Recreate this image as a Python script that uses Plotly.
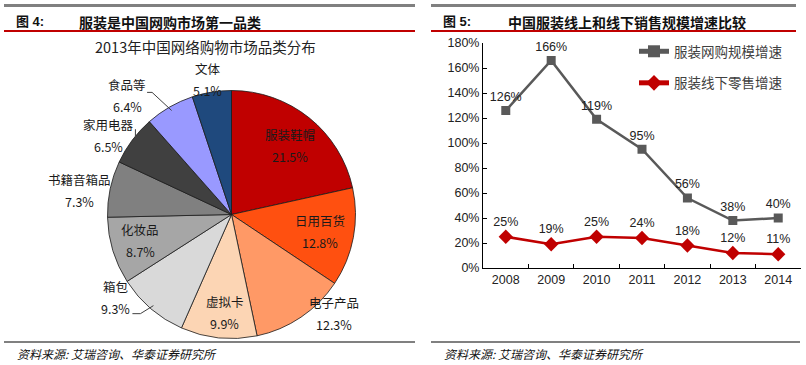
import math
import plotly.graph_objects as go

# ---------------- data ----------------
pie_labels = ["服装鞋帽", "日用百货", "电子产品", "虚拟卡", "箱包", "化妆品",
              "书籍音箱品", "家用电器", "食品等", "文体"]
pie_values = [21.5, 12.8, 12.3, 9.9, 9.3, 8.7, 7.3, 6.5, 6.4, 5.1]
pie_colors = ["#C00000", "#FF5010", "#FF9966", "#FCD5B4", "#D9D9D9", "#A6A6A6",
              "#808080", "#404040", "#9999FF", "#1F497D"]

years = ["2008", "2009", "2010", "2011", "2012", "2013", "2014"]
online_growth = [126, 166, 119, 95, 56, 38, 40]
offline_growth = [25, 19, 25, 24, 18, 12, 11]
series_names = ["服装网购规模增速", "服装线下零售增速"]

left_title_no = "图 4:"
left_title = "服装是中国网购市场第一品类"
pie_subtitle = "2013年中国网络购物市场品类分布"
right_title_no = "图 5:"
right_title = "中国服装线上和线下销售规模增速比较"
source_text = "资料来源: 艾瑞咨询、华泰证券研究所"

# ---------------- layout constants ----------------
W, H = 806, 365
CX, CY, R = 231.5, 214.5, 120.0   # pie centre / radius in px
RD = 124.0                        # domain half-size (plotly insets the pie slightly)
CJK = "Noto Sans CJK SC, Liberation Sans, sans-serif"
LAT = "Liberation Sans, Arial, Noto Sans CJK SC, sans-serif"

# label placement (radius factor, angular tweak in degrees)
lab_r = [0.753, 0.747, 1.19, 0.82, 1.19, 0.79, 1.28, 1.22, 1.32, 1.14]
lab_dang = [1.9, 0.3, -11.9, -2.1, 13.8, 1.0, -2.9, -4.0, -11.3, -0.9]
# leader line elbows (offsets from label centre, px) for outside labels
leaders = {4: [(25, 16), (17, 16)], 7: [(27, -6)], 8: [(25, -3), (20, -3)]}


def px(x):
    return x / W


def py(y):
    return 1 - y / H


fig = go.Figure()

fig.add_trace(go.Pie(
    labels=pie_labels, values=pie_values, sort=False, direction="clockwise",
    rotation=0, textinfo="none", hoverinfo="label+value",
    marker=dict(colors=pie_colors, line=dict(color="#1a1a1a", width=0.8)),
    domain=dict(x=[px(CX - RD), px(CX + RD)], y=[py(CY + RD), py(CY - RD)]),
    showlegend=False,
))

fig.add_trace(go.Scatter(
    x=years, y=online_growth, name=series_names[0], mode="lines+markers+text",
    line=dict(color="#595959", width=2.5),
    marker=dict(symbol="square", size=9, color="#595959"),
    text=[f"{v}%" for v in online_growth], textposition="top center",
    textfont=dict(family=LAT, size=12.5, color="#222"), cliponaxis=False,
    xaxis="x", yaxis="y", legendgroup="a",
))
fig.add_trace(go.Scatter(
    x=years, y=offline_growth, name=series_names[1], mode="lines+markers+text",
    line=dict(color="#C00000", width=2.5),
    marker=dict(symbol="diamond", size=11, color="#C00000"),
    text=[f"{v}%" for v in offline_growth], textposition="top center",
    textfont=dict(family=LAT, size=12.5, color="#222"), cliponaxis=False,
    xaxis="x", yaxis="y", legendgroup="b",
))

annotations = []
shapes = []

# pie labels computed from slice angles
total = sum(pie_values)
cum = 0.0
for i, (lab, v) in enumerate(zip(pie_labels, pie_values)):
    mid = (cum + v / 2) / total * 360.0
    cum += v
    ang = math.radians(mid + lab_dang[i])
    lx = CX + lab_r[i] * R * math.sin(ang)
    ly = CY - lab_r[i] * R * math.cos(ang)
    annotations.append(dict(x=px(lx), y=py(ly - 11), xref="paper", yref="paper",
                            text=lab, showarrow=False, xanchor="center", yanchor="middle",
                            borderpad=0,
                            font=dict(family=CJK, size=12.5, color="#1a1a1a")))
    annotations.append(dict(x=px(lx), y=py(ly + 11), xref="paper", yref="paper",
                            text=f"{v}%", showarrow=False, xanchor="center", yanchor="middle",
                            borderpad=0,
                            font=dict(family=CJK, size=12.5, color="#1a1a1a")))
    if i in leaders:
        ma = math.radians(mid)
        ex = CX + R * math.sin(ma)
        ey = CY - R * math.cos(ma)
        pts = [(ex, ey)] + [(lx + dx, ly + dy) for dx, dy in leaders[i]]
        path = "M " + " L ".join(f"{px(a)},{py(b)}" for a, b in pts)
        shapes.append(dict(type="path", xref="paper", yref="paper", path=path,
                           line=dict(color="#404040", width=1)))

# header / footer rules
for x0, x1 in [(4, 415), (431, 796)]:
    shapes.append(dict(type="rect", xref="paper", yref="paper", x0=px(x0), x1=px(x1),
                       y0=py(7), y1=py(4), fillcolor="#808080", line=dict(width=0)))
    shapes.append(dict(type="line", xref="paper", yref="paper", x0=px(x0), x1=px(x1),
                       y0=py(31), y1=py(31), line=dict(color="#C00000", width=2)))
    shapes.append(dict(type="line", xref="paper", yref="paper", x0=px(x0), x1=px(x1 + 4 if x0 > 400 else x1),
                       y0=py(342), y1=py(342), line=dict(color="#808080", width=2)))

# titles
for x, t in [(14, left_title_no), (441, right_title_no)]:
    annotations.append(dict(x=px(x), y=py(22), xref="paper", yref="paper", text=f"<b>{t}</b>",
                            showarrow=False, xanchor="left", yanchor="middle",
                            font=dict(family=LAT, size=13, color="#111")))
for x, t in [(77, left_title), (506, right_title)]:
    annotations.append(dict(x=px(x), y=py(22), xref="paper", yref="paper", text=f"<b>{t}</b>",
                            showarrow=False, xanchor="left", yanchor="middle",
                            font=dict(family=CJK, size=14, color="#111")))
annotations.append(dict(x=px(205), y=py(46), xref="paper", yref="paper", text=pie_subtitle,
                        showarrow=False, xanchor="center", yanchor="middle",
                        font=dict(family=CJK, size=14.5, color="#222")))
for x in [15, 442]:
    annotations.append(dict(x=px(x), y=py(353), xref="paper", yref="paper", text=source_text,
                            showarrow=False, xanchor="left", yanchor="middle",
                            font=dict(family=CJK, size=12, color="#111", style="italic")))

fig.update_layout(
    width=W, height=H, margin=dict(l=0, r=0, t=0, b=0, autoexpand=False),
    paper_bgcolor="white", plot_bgcolor="white",
    xaxis=dict(domain=[px(483), px(801)], type="category", showline=True,
               linecolor="#000", linewidth=1, ticks="inside", tickson="boundaries",
               ticklen=4, tickcolor="#000", showgrid=False, zeroline=False,
               tickfont=dict(family=LAT, size=12.5, color="#222"),
               anchor="y", fixedrange=True, automargin=False),
    yaxis=dict(domain=[py(268), py(43)], range=[0, 180], dtick=20, ticksuffix="%",
               showline=True, linecolor="#000", linewidth=1, ticks="inside",
               ticklen=4, tickcolor="#000", showgrid=False, zeroline=False,
               tickfont=dict(family=LAT, size=12.5, color="#222"),
               anchor="x", fixedrange=True, automargin=False),
    legend=dict(x=px(634), y=py(36), xanchor="left", yanchor="top",
                font=dict(family=CJK, size=13.5, color="#404040"),
                bgcolor="rgba(0,0,0,0)", tracegroupgap=11, itemwidth=30,
                itemsizing="constant"),
    annotations=annotations, shapes=shapes,
)

fig.write_html(
    "out.html",
    config={"displayModeBar": False},
    post_script="document.body.style.margin='0';document.body.style.padding='0';"
                "document.body.style.overflow='hidden';",
)
